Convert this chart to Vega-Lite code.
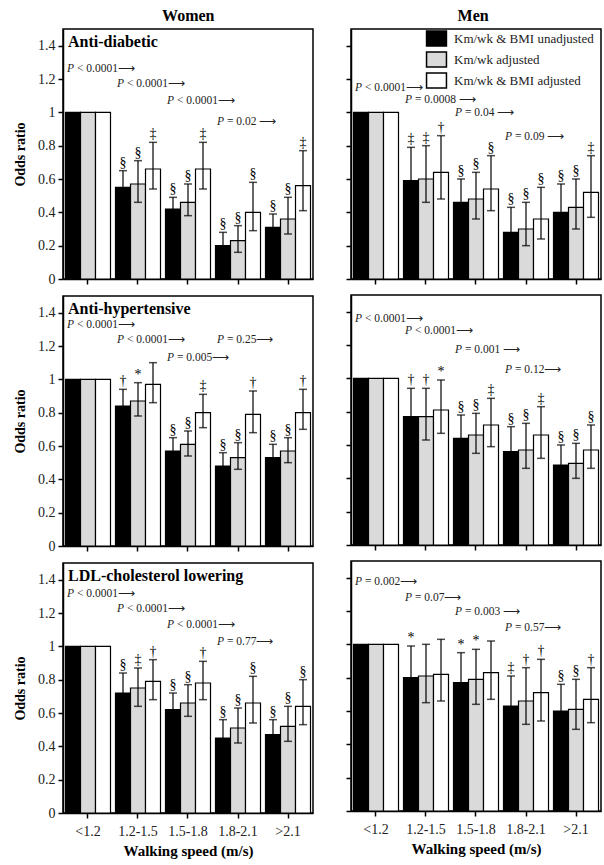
{
"$schema": "https://vega.github.io/schema/vega-lite/v6.json",
"padding": {"left": 12, "top": 8, "right": 2, "bottom": 0},
"config": {
 "font": "Liberation Serif",
 "view": {"stroke": "black", "strokeWidth": 1.5},
 "axis": {"grid": false, "domainColor": "black", "domainWidth": 1.5, "tickColor": "black", "tickWidth": 1.5, "tickSize": 5, "labelFont": "Liberation Serif", "labelFontSize": 14, "labelColor": "#222", "labelPadding": 3, "titleFont": "Liberation Serif", "titleFontSize": 14, "titleFontWeight": "bold", "titleColor": "black"},
 "axisX": {"labelAngle": 0},
 "text": {"font": "Liberation Serif", "color": "#222"},
 "title": {"font": "Liberation Serif", "fontWeight": "bold", "color": "black"}
},
"datasets": {"d": [
{"kind":"bar","sex":"Women","drug":"AD","speed":"<1.2","model":"Km/wk & BMI unadjusted","or":1,"lo":null,"hi":null,"sig":""},
{"kind":"bar","sex":"Women","drug":"AD","speed":"<1.2","model":"Km/wk adjusted","or":1,"lo":null,"hi":null,"sig":""},
{"kind":"bar","sex":"Women","drug":"AD","speed":"<1.2","model":"Km/wk & BMI adjusted","or":1,"lo":null,"hi":null,"sig":""},
{"kind":"bar","sex":"Women","drug":"AD","speed":"1.2-1.5","model":"Km/wk & BMI unadjusted","or":0.55,"lo":0.47,"hi":0.65,"sig":"§"},
{"kind":"bar","sex":"Women","drug":"AD","speed":"1.2-1.5","model":"Km/wk adjusted","or":0.57,"lo":0.46,"hi":0.71,"sig":"§"},
{"kind":"bar","sex":"Women","drug":"AD","speed":"1.2-1.5","model":"Km/wk & BMI adjusted","or":0.66,"lo":0.54,"hi":0.82,"sig":"‡"},
{"kind":"bar","sex":"Women","drug":"AD","speed":"1.5-1.8","model":"Km/wk & BMI unadjusted","or":0.42,"lo":0.35,"hi":0.49,"sig":"§"},
{"kind":"bar","sex":"Women","drug":"AD","speed":"1.5-1.8","model":"Km/wk adjusted","or":0.46,"lo":0.38,"hi":0.57,"sig":"§"},
{"kind":"bar","sex":"Women","drug":"AD","speed":"1.5-1.8","model":"Km/wk & BMI adjusted","or":0.66,"lo":0.54,"hi":0.82,"sig":"‡"},
{"kind":"bar","sex":"Women","drug":"AD","speed":"1.8-2.1","model":"Km/wk & BMI unadjusted","or":0.20,"lo":0.14,"hi":0.28,"sig":"§"},
{"kind":"bar","sex":"Women","drug":"AD","speed":"1.8-2.1","model":"Km/wk adjusted","or":0.23,"lo":0.16,"hi":0.32,"sig":"§"},
{"kind":"bar","sex":"Women","drug":"AD","speed":"1.8-2.1","model":"Km/wk & BMI adjusted","or":0.40,"lo":0.29,"hi":0.58,"sig":"§"},
{"kind":"bar","sex":"Women","drug":"AD","speed":">2.1","model":"Km/wk & BMI unadjusted","or":0.31,"lo":0.24,"hi":0.39,"sig":"§"},
{"kind":"bar","sex":"Women","drug":"AD","speed":">2.1","model":"Km/wk adjusted","or":0.36,"lo":0.27,"hi":0.49,"sig":"§"},
{"kind":"bar","sex":"Women","drug":"AD","speed":">2.1","model":"Km/wk & BMI adjusted","or":0.56,"lo":0.41,"hi":0.77,"sig":"‡"},
{"kind":"bar","sex":"Men","drug":"AD","speed":"<1.2","model":"Km/wk & BMI unadjusted","or":1,"lo":null,"hi":null,"sig":""},
{"kind":"bar","sex":"Men","drug":"AD","speed":"<1.2","model":"Km/wk adjusted","or":1,"lo":null,"hi":null,"sig":""},
{"kind":"bar","sex":"Men","drug":"AD","speed":"<1.2","model":"Km/wk & BMI adjusted","or":1,"lo":null,"hi":null,"sig":""},
{"kind":"bar","sex":"Men","drug":"AD","speed":"1.2-1.5","model":"Km/wk & BMI unadjusted","or":0.59,"lo":0.44,"hi":0.79,"sig":"‡"},
{"kind":"bar","sex":"Men","drug":"AD","speed":"1.2-1.5","model":"Km/wk adjusted","or":0.60,"lo":0.46,"hi":0.80,"sig":"‡"},
{"kind":"bar","sex":"Men","drug":"AD","speed":"1.2-1.5","model":"Km/wk & BMI adjusted","or":0.64,"lo":0.48,"hi":0.86,"sig":"†"},
{"kind":"bar","sex":"Men","drug":"AD","speed":"1.5-1.8","model":"Km/wk & BMI unadjusted","or":0.46,"lo":0.34,"hi":0.60,"sig":"§"},
{"kind":"bar","sex":"Men","drug":"AD","speed":"1.5-1.8","model":"Km/wk adjusted","or":0.48,"lo":0.36,"hi":0.64,"sig":"§"},
{"kind":"bar","sex":"Men","drug":"AD","speed":"1.5-1.8","model":"Km/wk & BMI adjusted","or":0.54,"lo":0.41,"hi":0.74,"sig":"§"},
{"kind":"bar","sex":"Men","drug":"AD","speed":"1.8-2.1","model":"Km/wk & BMI unadjusted","or":0.28,"lo":0.19,"hi":0.43,"sig":"§"},
{"kind":"bar","sex":"Men","drug":"AD","speed":"1.8-2.1","model":"Km/wk adjusted","or":0.30,"lo":0.20,"hi":0.46,"sig":"§"},
{"kind":"bar","sex":"Men","drug":"AD","speed":"1.8-2.1","model":"Km/wk & BMI adjusted","or":0.36,"lo":0.24,"hi":0.55,"sig":"§"},
{"kind":"bar","sex":"Men","drug":"AD","speed":">2.1","model":"Km/wk & BMI unadjusted","or":0.40,"lo":0.29,"hi":0.57,"sig":"§"},
{"kind":"bar","sex":"Men","drug":"AD","speed":">2.1","model":"Km/wk adjusted","or":0.43,"lo":0.30,"hi":0.60,"sig":"§"},
{"kind":"bar","sex":"Men","drug":"AD","speed":">2.1","model":"Km/wk & BMI adjusted","or":0.52,"lo":0.37,"hi":0.74,"sig":"‡"},
{"kind":"bar","sex":"Women","drug":"AH","speed":"<1.2","model":"Km/wk & BMI unadjusted","or":1,"lo":null,"hi":null,"sig":""},
{"kind":"bar","sex":"Women","drug":"AH","speed":"<1.2","model":"Km/wk adjusted","or":1,"lo":null,"hi":null,"sig":""},
{"kind":"bar","sex":"Women","drug":"AH","speed":"<1.2","model":"Km/wk & BMI adjusted","or":1,"lo":null,"hi":null,"sig":""},
{"kind":"bar","sex":"Women","drug":"AH","speed":"1.2-1.5","model":"Km/wk & BMI unadjusted","or":0.84,"lo":0.75,"hi":0.94,"sig":"†"},
{"kind":"bar","sex":"Women","drug":"AH","speed":"1.2-1.5","model":"Km/wk adjusted","or":0.87,"lo":0.78,"hi":0.98,"sig":"*"},
{"kind":"bar","sex":"Women","drug":"AH","speed":"1.2-1.5","model":"Km/wk & BMI adjusted","or":0.97,"lo":0.86,"hi":1.10,"sig":""},
{"kind":"bar","sex":"Women","drug":"AH","speed":"1.5-1.8","model":"Km/wk & BMI unadjusted","or":0.57,"lo":0.50,"hi":0.65,"sig":"§"},
{"kind":"bar","sex":"Women","drug":"AH","speed":"1.5-1.8","model":"Km/wk adjusted","or":0.61,"lo":0.54,"hi":0.69,"sig":"§"},
{"kind":"bar","sex":"Women","drug":"AH","speed":"1.5-1.8","model":"Km/wk & BMI adjusted","or":0.80,"lo":0.71,"hi":0.91,"sig":"‡"},
{"kind":"bar","sex":"Women","drug":"AH","speed":"1.8-2.1","model":"Km/wk & BMI unadjusted","or":0.48,"lo":0.42,"hi":0.56,"sig":"§"},
{"kind":"bar","sex":"Women","drug":"AH","speed":"1.8-2.1","model":"Km/wk adjusted","or":0.53,"lo":0.46,"hi":0.62,"sig":"§"},
{"kind":"bar","sex":"Women","drug":"AH","speed":"1.8-2.1","model":"Km/wk & BMI adjusted","or":0.79,"lo":0.68,"hi":0.93,"sig":"†"},
{"kind":"bar","sex":"Women","drug":"AH","speed":">2.1","model":"Km/wk & BMI unadjusted","or":0.53,"lo":0.46,"hi":0.61,"sig":"§"},
{"kind":"bar","sex":"Women","drug":"AH","speed":">2.1","model":"Km/wk adjusted","or":0.57,"lo":0.50,"hi":0.65,"sig":"§"},
{"kind":"bar","sex":"Women","drug":"AH","speed":">2.1","model":"Km/wk & BMI adjusted","or":0.80,"lo":0.70,"hi":0.94,"sig":"†"},
{"kind":"bar","sex":"Men","drug":"AH","speed":"<1.2","model":"Km/wk & BMI unadjusted","or":1,"lo":null,"hi":null,"sig":""},
{"kind":"bar","sex":"Men","drug":"AH","speed":"<1.2","model":"Km/wk adjusted","or":1,"lo":null,"hi":null,"sig":""},
{"kind":"bar","sex":"Men","drug":"AH","speed":"<1.2","model":"Km/wk & BMI adjusted","or":1,"lo":null,"hi":null,"sig":""},
{"kind":"bar","sex":"Men","drug":"AH","speed":"1.2-1.5","model":"Km/wk & BMI unadjusted","or":0.77,"lo":0.63,"hi":0.94,"sig":"†"},
{"kind":"bar","sex":"Men","drug":"AH","speed":"1.2-1.5","model":"Km/wk adjusted","or":0.77,"lo":0.63,"hi":0.94,"sig":"†"},
{"kind":"bar","sex":"Men","drug":"AH","speed":"1.2-1.5","model":"Km/wk & BMI adjusted","or":0.81,"lo":0.67,"hi":0.99,"sig":"*"},
{"kind":"bar","sex":"Men","drug":"AH","speed":"1.5-1.8","model":"Km/wk & BMI unadjusted","or":0.64,"lo":0.53,"hi":0.78,"sig":"§"},
{"kind":"bar","sex":"Men","drug":"AH","speed":"1.5-1.8","model":"Km/wk adjusted","or":0.66,"lo":0.55,"hi":0.79,"sig":"§"},
{"kind":"bar","sex":"Men","drug":"AH","speed":"1.5-1.8","model":"Km/wk & BMI adjusted","or":0.72,"lo":0.59,"hi":0.88,"sig":"‡"},
{"kind":"bar","sex":"Men","drug":"AH","speed":"1.8-2.1","model":"Km/wk & BMI unadjusted","or":0.56,"lo":0.45,"hi":0.71,"sig":"§"},
{"kind":"bar","sex":"Men","drug":"AH","speed":"1.8-2.1","model":"Km/wk adjusted","or":0.57,"lo":0.46,"hi":0.73,"sig":"§"},
{"kind":"bar","sex":"Men","drug":"AH","speed":"1.8-2.1","model":"Km/wk & BMI adjusted","or":0.66,"lo":0.52,"hi":0.83,"sig":"‡"},
{"kind":"bar","sex":"Men","drug":"AH","speed":">2.1","model":"Km/wk & BMI unadjusted","or":0.48,"lo":0.39,"hi":0.60,"sig":"§"},
{"kind":"bar","sex":"Men","drug":"AH","speed":">2.1","model":"Km/wk adjusted","or":0.49,"lo":0.40,"hi":0.61,"sig":"§"},
{"kind":"bar","sex":"Men","drug":"AH","speed":">2.1","model":"Km/wk & BMI adjusted","or":0.57,"lo":0.46,"hi":0.72,"sig":"§"},
{"kind":"bar","sex":"Women","drug":"LDL","speed":"<1.2","model":"Km/wk & BMI unadjusted","or":1,"lo":null,"hi":null,"sig":""},
{"kind":"bar","sex":"Women","drug":"LDL","speed":"<1.2","model":"Km/wk adjusted","or":1,"lo":null,"hi":null,"sig":""},
{"kind":"bar","sex":"Women","drug":"LDL","speed":"<1.2","model":"Km/wk & BMI adjusted","or":1,"lo":null,"hi":null,"sig":""},
{"kind":"bar","sex":"Women","drug":"LDL","speed":"1.2-1.5","model":"Km/wk & BMI unadjusted","or":0.72,"lo":0.63,"hi":0.84,"sig":"§"},
{"kind":"bar","sex":"Women","drug":"LDL","speed":"1.2-1.5","model":"Km/wk adjusted","or":0.75,"lo":0.64,"hi":0.87,"sig":"‡"},
{"kind":"bar","sex":"Women","drug":"LDL","speed":"1.2-1.5","model":"Km/wk & BMI adjusted","or":0.79,"lo":0.68,"hi":0.92,"sig":"†"},
{"kind":"bar","sex":"Women","drug":"LDL","speed":"1.5-1.8","model":"Km/wk & BMI unadjusted","or":0.62,"lo":0.53,"hi":0.72,"sig":"§"},
{"kind":"bar","sex":"Women","drug":"LDL","speed":"1.5-1.8","model":"Km/wk adjusted","or":0.66,"lo":0.58,"hi":0.77,"sig":"§"},
{"kind":"bar","sex":"Women","drug":"LDL","speed":"1.5-1.8","model":"Km/wk & BMI adjusted","or":0.78,"lo":0.68,"hi":0.91,"sig":"†"},
{"kind":"bar","sex":"Women","drug":"LDL","speed":"1.8-2.1","model":"Km/wk & BMI unadjusted","or":0.45,"lo":0.37,"hi":0.56,"sig":"§"},
{"kind":"bar","sex":"Women","drug":"LDL","speed":"1.8-2.1","model":"Km/wk adjusted","or":0.51,"lo":0.42,"hi":0.63,"sig":"§"},
{"kind":"bar","sex":"Women","drug":"LDL","speed":"1.8-2.1","model":"Km/wk & BMI adjusted","or":0.66,"lo":0.54,"hi":0.82,"sig":"§"},
{"kind":"bar","sex":"Women","drug":"LDL","speed":">2.1","model":"Km/wk & BMI unadjusted","or":0.47,"lo":0.39,"hi":0.56,"sig":"§"},
{"kind":"bar","sex":"Women","drug":"LDL","speed":">2.1","model":"Km/wk adjusted","or":0.52,"lo":0.43,"hi":0.64,"sig":"§"},
{"kind":"bar","sex":"Women","drug":"LDL","speed":">2.1","model":"Km/wk & BMI adjusted","or":0.64,"lo":0.53,"hi":0.80,"sig":"§"},
{"kind":"bar","sex":"Men","drug":"LDL","speed":"<1.2","model":"Km/wk & BMI unadjusted","or":1,"lo":null,"hi":null,"sig":""},
{"kind":"bar","sex":"Men","drug":"LDL","speed":"<1.2","model":"Km/wk adjusted","or":1,"lo":null,"hi":null,"sig":""},
{"kind":"bar","sex":"Men","drug":"LDL","speed":"<1.2","model":"Km/wk & BMI adjusted","or":1,"lo":null,"hi":null,"sig":""},
{"kind":"bar","sex":"Men","drug":"LDL","speed":"1.2-1.5","model":"Km/wk & BMI unadjusted","or":0.80,"lo":0.65,"hi":0.99,"sig":"*"},
{"kind":"bar","sex":"Men","drug":"LDL","speed":"1.2-1.5","model":"Km/wk adjusted","or":0.81,"lo":0.65,"hi":1.00,"sig":""},
{"kind":"bar","sex":"Men","drug":"LDL","speed":"1.2-1.5","model":"Km/wk & BMI adjusted","or":0.82,"lo":0.66,"hi":1.03,"sig":""},
{"kind":"bar","sex":"Men","drug":"LDL","speed":"1.5-1.8","model":"Km/wk & BMI unadjusted","or":0.77,"lo":0.62,"hi":0.95,"sig":"*"},
{"kind":"bar","sex":"Men","drug":"LDL","speed":"1.5-1.8","model":"Km/wk adjusted","or":0.79,"lo":0.64,"hi":0.97,"sig":"*"},
{"kind":"bar","sex":"Men","drug":"LDL","speed":"1.5-1.8","model":"Km/wk & BMI adjusted","or":0.83,"lo":0.67,"hi":1.02,"sig":""},
{"kind":"bar","sex":"Men","drug":"LDL","speed":"1.8-2.1","model":"Km/wk & BMI unadjusted","or":0.63,"lo":0.49,"hi":0.81,"sig":"‡"},
{"kind":"bar","sex":"Men","drug":"LDL","speed":"1.8-2.1","model":"Km/wk adjusted","or":0.66,"lo":0.52,"hi":0.86,"sig":"†"},
{"kind":"bar","sex":"Men","drug":"LDL","speed":"1.8-2.1","model":"Km/wk & BMI adjusted","or":0.71,"lo":0.54,"hi":0.91,"sig":"†"},
{"kind":"bar","sex":"Men","drug":"LDL","speed":">2.1","model":"Km/wk & BMI unadjusted","or":0.60,"lo":0.47,"hi":0.76,"sig":"§"},
{"kind":"bar","sex":"Men","drug":"LDL","speed":">2.1","model":"Km/wk adjusted","or":0.61,"lo":0.49,"hi":0.79,"sig":"§"},
{"kind":"bar","sex":"Men","drug":"LDL","speed":">2.1","model":"Km/wk & BMI adjusted","or":0.67,"lo":0.53,"hi":0.86,"sig":"†"},
{"kind":"p","sex":"Women","drug":"AD","speed":"<1.2","p":"< 0.0001⟶","py":1.26},
{"kind":"p","sex":"Women","drug":"AD","speed":"1.2-1.5","p":"< 0.0001⟶","py":1.17},
{"kind":"p","sex":"Women","drug":"AD","speed":"1.5-1.8","p":"< 0.0001⟶","py":1.07},
{"kind":"p","sex":"Women","drug":"AD","speed":"1.8-2.1","p":"= 0.02 ⟶","py":0.945},
{"kind":"p","sex":"Men","drug":"AD","speed":"<1.2","p":"< 0.0001⟶","py":1.145},
{"kind":"p","sex":"Men","drug":"AD","speed":"1.2-1.5","p":"= 0.0008 ⟶","py":1.075},
{"kind":"p","sex":"Men","drug":"AD","speed":"1.5-1.8","p":"= 0.04 ⟶","py":0.995},
{"kind":"p","sex":"Men","drug":"AD","speed":"1.8-2.1","p":"= 0.09 ⟶","py":0.85},
{"kind":"p","sex":"Women","drug":"AH","speed":"<1.2","p":"< 0.0001⟶","py":1.327},
{"kind":"p","sex":"Women","drug":"AH","speed":"1.2-1.5","p":"< 0.0001⟶","py":1.237},
{"kind":"p","sex":"Women","drug":"AH","speed":"1.5-1.8","p":"= 0.005⟶","py":1.13},
{"kind":"p","sex":"Women","drug":"AH","speed":"1.8-2.1","p":"= 0.25⟶","py":1.237},
{"kind":"p","sex":"Men","drug":"AH","speed":"<1.2","p":"< 0.0001⟶","py":1.357},
{"kind":"p","sex":"Men","drug":"AH","speed":"1.2-1.5","p":"< 0.0001⟶","py":1.284},
{"kind":"p","sex":"Men","drug":"AH","speed":"1.5-1.8","p":"= 0.001 ⟶","py":1.17},
{"kind":"p","sex":"Men","drug":"AH","speed":"1.8-2.1","p":"= 0.12⟶","py":1.05},
{"kind":"p","sex":"Women","drug":"LDL","speed":"<1.2","p":"< 0.0001⟶","py":1.315},
{"kind":"p","sex":"Women","drug":"LDL","speed":"1.2-1.5","p":"< 0.0001⟶","py":1.224},
{"kind":"p","sex":"Women","drug":"LDL","speed":"1.5-1.8","p":"< 0.0001⟶","py":1.128},
{"kind":"p","sex":"Women","drug":"LDL","speed":"1.8-2.1","p":"= 0.77⟶","py":1.026},
{"kind":"p","sex":"Men","drug":"LDL","speed":"<1.2","p":"= 0.002⟶","py":1.375},
{"kind":"p","sex":"Men","drug":"LDL","speed":"1.2-1.5","p":"= 0.07⟶","py":1.279},
{"kind":"p","sex":"Men","drug":"LDL","speed":"1.5-1.8","p":"= 0.003 ⟶","py":1.195},
{"kind":"p","sex":"Men","drug":"LDL","speed":"1.8-2.1","p":"= 0.57⟶","py":1.098},
{"kind":"t","sex":"Women","drug":"AD","speed":"<1.2","label":"Anti-diabetic"},
{"kind":"t","sex":"Women","drug":"AH","speed":"<1.2","label":"Anti-hypertensive"},
{"kind":"t","sex":"Women","drug":"LDL","speed":"<1.2","label":"LDL-cholesterol lowering"}
]},
"spacing": 30,
"resolve": {"scale": {"fill": "independent"}, "legend": {"fill": "independent"}},
"hconcat": [
{
 "title": {"text": "Women", "anchor": "middle", "fontSize": 16, "dx": 25},
 "spacing": 8,
 "resolve": {"scale": {"fill": "independent"}, "legend": {"fill": "independent"}},
 "vconcat": [
 {
  "width": 250, "height": 250,
  "data": {"name": "d"},
  "transform": [{"filter": "datum.sex=='Women' && datum.drug=='AD'"}],
  "encoding": {"x": {"field": "speed", "type": "nominal", "sort": ["<1.2","1.2-1.5","1.5-1.8","1.8-2.1",">2.1"], "scale": {"paddingInner": 0.1, "paddingOuter": 0.05}, "axis": {"labels": false, "title": null}}},
  "layer": [
   {"transform": [{"filter": "datum.kind=='bar'"}], "mark": {"type": "bar", "stroke": "black", "strokeWidth": 1.2},
    "encoding": {"xOffset": {"field": "model", "sort": ["Km/wk & BMI unadjusted","Km/wk adjusted","Km/wk & BMI adjusted"]},
     "y": {"field": "or", "type": "quantitative", "scale": {"domain": [0, 1.5]}, "axis": {"values": [0,0.2,0.4,0.6,0.8,1,1.2,1.4], "format": "~g", "title": "Odds ratio", "titlePadding": 10}},
     "fill": {"field": "model", "scale": {"domain": ["Km/wk & BMI unadjusted","Km/wk adjusted","Km/wk & BMI adjusted"], "range": ["black","#dadada","white"]}, "legend": null}}},
   {"transform": [{"filter": "datum.kind=='bar' && datum.hi != null"}], "mark": {"type": "rule", "color": "black", "strokeWidth": 1.2},
    "encoding": {"xOffset": {"field": "model", "sort": ["Km/wk & BMI unadjusted","Km/wk adjusted","Km/wk & BMI adjusted"]}, "y": {"field": "lo", "type": "quantitative", "scale": {"domain": [0, 1.5]}, "axis": {"values": [0,0.2,0.4,0.6,0.8,1,1.2,1.4], "format": "~g", "title": "Odds ratio", "titlePadding": 10}}, "y2": {"field": "hi"}}},
   {"transform": [{"filter": "datum.kind=='bar' && datum.hi != null"}], "mark": {"type": "tick", "color": "black", "size": 8, "thickness": 1.5},
    "encoding": {"xOffset": {"field": "model", "sort": ["Km/wk & BMI unadjusted","Km/wk adjusted","Km/wk & BMI adjusted"]}, "y": {"field": "hi", "type": "quantitative", "scale": {"domain": [0, 1.5]}, "axis": {"values": [0,0.2,0.4,0.6,0.8,1,1.2,1.4], "format": "~g", "title": "Odds ratio", "titlePadding": 10}}}},
   {"transform": [{"filter": "datum.kind=='bar' && datum.hi != null"}], "mark": {"type": "tick", "color": "black", "size": 8, "thickness": 1.5},
    "encoding": {"xOffset": {"field": "model", "sort": ["Km/wk & BMI unadjusted","Km/wk adjusted","Km/wk & BMI adjusted"]}, "y": {"field": "lo", "type": "quantitative", "scale": {"domain": [0, 1.5]}, "axis": {"values": [0,0.2,0.4,0.6,0.8,1,1.2,1.4], "format": "~g", "title": "Odds ratio", "titlePadding": 10}}}},
   {"transform": [{"filter": "datum.kind=='bar' && datum.hi != null"}], "mark": {"type": "text", "baseline": "bottom", "dy": -1, "fontSize": 14, "color": "black"},
    "encoding": {"xOffset": {"field": "model", "sort": ["Km/wk & BMI unadjusted","Km/wk adjusted","Km/wk & BMI adjusted"]}, "y": {"field": "hi", "type": "quantitative", "scale": {"domain": [0, 1.5]}, "axis": {"values": [0,0.2,0.4,0.6,0.8,1,1.2,1.4], "format": "~g", "title": "Odds ratio", "titlePadding": 10}}, "text": {"field": "sig"}}},
   {"transform": [{"filter": "datum.kind=='p'"}], "mark": {"type": "text", "align": "left", "baseline": "middle", "fontStyle": "italic", "fontSize": 11.5, "dx": -21},
    "encoding": {"y": {"field": "py", "type": "quantitative", "scale": {"domain": [0, 1.5]}, "axis": {"values": [0,0.2,0.4,0.6,0.8,1,1.2,1.4], "format": "~g", "title": "Odds ratio", "titlePadding": 10}}, "text": {"value": "P"}}},
   {"transform": [{"filter": "datum.kind=='p'"}], "mark": {"type": "text", "align": "left", "baseline": "middle", "fontSize": 11.5, "dx": -11},
    "encoding": {"y": {"field": "py", "type": "quantitative", "scale": {"domain": [0, 1.5]}, "axis": {"values": [0,0.2,0.4,0.6,0.8,1,1.2,1.4], "format": "~g", "title": "Odds ratio", "titlePadding": 10}}, "text": {"field": "p"}}},
   {"transform": [{"filter": "datum.kind=='t'"}], "mark": {"type": "text", "align": "left", "baseline": "middle", "fontSize": 16, "fontWeight": "bold", "color": "black", "dx": -20},
    "encoding": {"y": {"datum": 1.42, "type": "quantitative", "scale": {"domain": [0, 1.5]}, "axis": {"values": [0,0.2,0.4,0.6,0.8,1,1.2,1.4], "format": "~g", "title": "Odds ratio", "titlePadding": 10}}, "text": {"field": "label"}}}
  ]
 },
 {
  "width": 250, "height": 250,
  "data": {"name": "d"},
  "transform": [{"filter": "datum.sex=='Women' && datum.drug=='AH'"}],
  "encoding": {"x": {"field": "speed", "type": "nominal", "sort": ["<1.2","1.2-1.5","1.5-1.8","1.8-2.1",">2.1"], "scale": {"paddingInner": 0.1, "paddingOuter": 0.05}, "axis": {"labels": false, "title": null}}},
  "layer": [
   {"transform": [{"filter": "datum.kind=='bar'"}], "mark": {"type": "bar", "stroke": "black", "strokeWidth": 1.2},
    "encoding": {"xOffset": {"field": "model", "sort": ["Km/wk & BMI unadjusted","Km/wk adjusted","Km/wk & BMI adjusted"]},
     "y": {"field": "or", "type": "quantitative", "scale": {"domain": [0, 1.5]}, "axis": {"values": [0,0.2,0.4,0.6,0.8,1,1.2,1.4], "format": "~g", "title": "Odds ratio", "titlePadding": 10}},
     "fill": {"field": "model", "scale": {"domain": ["Km/wk & BMI unadjusted","Km/wk adjusted","Km/wk & BMI adjusted"], "range": ["black","#dadada","white"]}, "legend": null}}},
   {"transform": [{"filter": "datum.kind=='bar' && datum.hi != null"}], "mark": {"type": "rule", "color": "black", "strokeWidth": 1.2},
    "encoding": {"xOffset": {"field": "model", "sort": ["Km/wk & BMI unadjusted","Km/wk adjusted","Km/wk & BMI adjusted"]}, "y": {"field": "lo", "type": "quantitative", "scale": {"domain": [0, 1.5]}, "axis": {"values": [0,0.2,0.4,0.6,0.8,1,1.2,1.4], "format": "~g", "title": "Odds ratio", "titlePadding": 10}}, "y2": {"field": "hi"}}},
   {"transform": [{"filter": "datum.kind=='bar' && datum.hi != null"}], "mark": {"type": "tick", "color": "black", "size": 8, "thickness": 1.5},
    "encoding": {"xOffset": {"field": "model", "sort": ["Km/wk & BMI unadjusted","Km/wk adjusted","Km/wk & BMI adjusted"]}, "y": {"field": "hi", "type": "quantitative", "scale": {"domain": [0, 1.5]}, "axis": {"values": [0,0.2,0.4,0.6,0.8,1,1.2,1.4], "format": "~g", "title": "Odds ratio", "titlePadding": 10}}}},
   {"transform": [{"filter": "datum.kind=='bar' && datum.hi != null"}], "mark": {"type": "tick", "color": "black", "size": 8, "thickness": 1.5},
    "encoding": {"xOffset": {"field": "model", "sort": ["Km/wk & BMI unadjusted","Km/wk adjusted","Km/wk & BMI adjusted"]}, "y": {"field": "lo", "type": "quantitative", "scale": {"domain": [0, 1.5]}, "axis": {"values": [0,0.2,0.4,0.6,0.8,1,1.2,1.4], "format": "~g", "title": "Odds ratio", "titlePadding": 10}}}},
   {"transform": [{"filter": "datum.kind=='bar' && datum.hi != null"}], "mark": {"type": "text", "baseline": "bottom", "dy": -1, "fontSize": 14, "color": "black"},
    "encoding": {"xOffset": {"field": "model", "sort": ["Km/wk & BMI unadjusted","Km/wk adjusted","Km/wk & BMI adjusted"]}, "y": {"field": "hi", "type": "quantitative", "scale": {"domain": [0, 1.5]}, "axis": {"values": [0,0.2,0.4,0.6,0.8,1,1.2,1.4], "format": "~g", "title": "Odds ratio", "titlePadding": 10}}, "text": {"field": "sig"}}},
   {"transform": [{"filter": "datum.kind=='p'"}], "mark": {"type": "text", "align": "left", "baseline": "middle", "fontStyle": "italic", "fontSize": 11.5, "dx": -21},
    "encoding": {"y": {"field": "py", "type": "quantitative", "scale": {"domain": [0, 1.5]}, "axis": {"values": [0,0.2,0.4,0.6,0.8,1,1.2,1.4], "format": "~g", "title": "Odds ratio", "titlePadding": 10}}, "text": {"value": "P"}}},
   {"transform": [{"filter": "datum.kind=='p'"}], "mark": {"type": "text", "align": "left", "baseline": "middle", "fontSize": 11.5, "dx": -11},
    "encoding": {"y": {"field": "py", "type": "quantitative", "scale": {"domain": [0, 1.5]}, "axis": {"values": [0,0.2,0.4,0.6,0.8,1,1.2,1.4], "format": "~g", "title": "Odds ratio", "titlePadding": 10}}, "text": {"field": "p"}}},
   {"transform": [{"filter": "datum.kind=='t'"}], "mark": {"type": "text", "align": "left", "baseline": "middle", "fontSize": 16, "fontWeight": "bold", "color": "black", "dx": -20},
    "encoding": {"y": {"datum": 1.42, "type": "quantitative", "scale": {"domain": [0, 1.5]}, "axis": {"values": [0,0.2,0.4,0.6,0.8,1,1.2,1.4], "format": "~g", "title": "Odds ratio", "titlePadding": 10}}, "text": {"field": "label"}}}
  ]
 },
 {
  "width": 250, "height": 250,
  "data": {"name": "d"},
  "transform": [{"filter": "datum.sex=='Women' && datum.drug=='LDL'"}],
  "encoding": {"x": {"field": "speed", "type": "nominal", "sort": ["<1.2","1.2-1.5","1.5-1.8","1.8-2.1",">2.1"], "scale": {"paddingInner": 0.1, "paddingOuter": 0.05}, "axis": {"title": "Walking speed (m/s)", "labelPadding": 6, "titlePadding": 5, "titleFontSize": 15}}},
  "layer": [
   {"transform": [{"filter": "datum.kind=='bar'"}], "mark": {"type": "bar", "stroke": "black", "strokeWidth": 1.2},
    "encoding": {"xOffset": {"field": "model", "sort": ["Km/wk & BMI unadjusted","Km/wk adjusted","Km/wk & BMI adjusted"]},
     "y": {"field": "or", "type": "quantitative", "scale": {"domain": [0, 1.5]}, "axis": {"values": [0,0.2,0.4,0.6,0.8,1,1.2,1.4], "format": "~g", "title": "Odds ratio", "titlePadding": 10}},
     "fill": {"field": "model", "scale": {"domain": ["Km/wk & BMI unadjusted","Km/wk adjusted","Km/wk & BMI adjusted"], "range": ["black","#dadada","white"]}, "legend": null}}},
   {"transform": [{"filter": "datum.kind=='bar' && datum.hi != null"}], "mark": {"type": "rule", "color": "black", "strokeWidth": 1.2},
    "encoding": {"xOffset": {"field": "model", "sort": ["Km/wk & BMI unadjusted","Km/wk adjusted","Km/wk & BMI adjusted"]}, "y": {"field": "lo", "type": "quantitative", "scale": {"domain": [0, 1.5]}, "axis": {"values": [0,0.2,0.4,0.6,0.8,1,1.2,1.4], "format": "~g", "title": "Odds ratio", "titlePadding": 10}}, "y2": {"field": "hi"}}},
   {"transform": [{"filter": "datum.kind=='bar' && datum.hi != null"}], "mark": {"type": "tick", "color": "black", "size": 8, "thickness": 1.5},
    "encoding": {"xOffset": {"field": "model", "sort": ["Km/wk & BMI unadjusted","Km/wk adjusted","Km/wk & BMI adjusted"]}, "y": {"field": "hi", "type": "quantitative", "scale": {"domain": [0, 1.5]}, "axis": {"values": [0,0.2,0.4,0.6,0.8,1,1.2,1.4], "format": "~g", "title": "Odds ratio", "titlePadding": 10}}}},
   {"transform": [{"filter": "datum.kind=='bar' && datum.hi != null"}], "mark": {"type": "tick", "color": "black", "size": 8, "thickness": 1.5},
    "encoding": {"xOffset": {"field": "model", "sort": ["Km/wk & BMI unadjusted","Km/wk adjusted","Km/wk & BMI adjusted"]}, "y": {"field": "lo", "type": "quantitative", "scale": {"domain": [0, 1.5]}, "axis": {"values": [0,0.2,0.4,0.6,0.8,1,1.2,1.4], "format": "~g", "title": "Odds ratio", "titlePadding": 10}}}},
   {"transform": [{"filter": "datum.kind=='bar' && datum.hi != null"}], "mark": {"type": "text", "baseline": "bottom", "dy": -1, "fontSize": 14, "color": "black"},
    "encoding": {"xOffset": {"field": "model", "sort": ["Km/wk & BMI unadjusted","Km/wk adjusted","Km/wk & BMI adjusted"]}, "y": {"field": "hi", "type": "quantitative", "scale": {"domain": [0, 1.5]}, "axis": {"values": [0,0.2,0.4,0.6,0.8,1,1.2,1.4], "format": "~g", "title": "Odds ratio", "titlePadding": 10}}, "text": {"field": "sig"}}},
   {"transform": [{"filter": "datum.kind=='p'"}], "mark": {"type": "text", "align": "left", "baseline": "middle", "fontStyle": "italic", "fontSize": 11.5, "dx": -21},
    "encoding": {"y": {"field": "py", "type": "quantitative", "scale": {"domain": [0, 1.5]}, "axis": {"values": [0,0.2,0.4,0.6,0.8,1,1.2,1.4], "format": "~g", "title": "Odds ratio", "titlePadding": 10}}, "text": {"value": "P"}}},
   {"transform": [{"filter": "datum.kind=='p'"}], "mark": {"type": "text", "align": "left", "baseline": "middle", "fontSize": 11.5, "dx": -11},
    "encoding": {"y": {"field": "py", "type": "quantitative", "scale": {"domain": [0, 1.5]}, "axis": {"values": [0,0.2,0.4,0.6,0.8,1,1.2,1.4], "format": "~g", "title": "Odds ratio", "titlePadding": 10}}, "text": {"field": "p"}}},
   {"transform": [{"filter": "datum.kind=='t'"}], "mark": {"type": "text", "align": "left", "baseline": "middle", "fontSize": 16, "fontWeight": "bold", "color": "black", "dx": -20},
    "encoding": {"y": {"datum": 1.42, "type": "quantitative", "scale": {"domain": [0, 1.5]}, "axis": {"values": [0,0.2,0.4,0.6,0.8,1,1.2,1.4], "format": "~g", "title": "Odds ratio", "titlePadding": 10}}, "text": {"field": "label"}}}
  ]
 }
 ]
},
{
 "title": {"text": "Men", "anchor": "middle", "fontSize": 16},
 "spacing": 8,
 "resolve": {"scale": {"fill": "independent"}, "legend": {"fill": "independent"}},
 "vconcat": [
 {
  "width": 250, "height": 250,
  "data": {"name": "d"},
  "transform": [{"filter": "datum.sex=='Men' && datum.drug=='AD'"}],
  "encoding": {"x": {"field": "speed", "type": "nominal", "sort": ["<1.2","1.2-1.5","1.5-1.8","1.8-2.1",">2.1"], "scale": {"paddingInner": 0.1, "paddingOuter": 0.05}, "axis": {"labels": false, "title": null}}},
  "layer": [
   {"transform": [{"filter": "datum.kind=='bar'"}], "mark": {"type": "bar", "stroke": "black", "strokeWidth": 1.2},
    "encoding": {"xOffset": {"field": "model", "sort": ["Km/wk & BMI unadjusted","Km/wk adjusted","Km/wk & BMI adjusted"]},
     "y": {"field": "or", "type": "quantitative", "scale": {"domain": [0, 1.5]}, "axis": {"values": [0,0.2,0.4,0.6,0.8,1,1.2,1.4], "labels": false, "title": null}},
     "fill": {"field": "model", "scale": {"domain": ["Km/wk & BMI unadjusted","Km/wk adjusted","Km/wk & BMI adjusted"], "range": ["black","#dadada","white"]},
      "legend": {"orient": "none", "legendX": 76, "legendY": 0, "title": null, "padding": 0, "symbolType": "M-1.15,-0.87H1.15V0.87H-1.15Z", "symbolSize": 300, "symbolStrokeColor": "black", "symbolStrokeWidth": 1.5, "labelFont": "Liberation Serif", "labelFontSize": 13, "labelColor": "#222", "labelOffset": 8, "rowPadding": -5.3}}}},
   {"transform": [{"filter": "datum.kind=='bar' && datum.hi != null"}], "mark": {"type": "rule", "color": "black", "strokeWidth": 1.2},
    "encoding": {"xOffset": {"field": "model", "sort": ["Km/wk & BMI unadjusted","Km/wk adjusted","Km/wk & BMI adjusted"]}, "y": {"field": "lo", "type": "quantitative", "scale": {"domain": [0, 1.5]}, "axis": {"values": [0,0.2,0.4,0.6,0.8,1,1.2,1.4], "labels": false, "title": null}}, "y2": {"field": "hi"}}},
   {"transform": [{"filter": "datum.kind=='bar' && datum.hi != null"}], "mark": {"type": "tick", "color": "black", "size": 8, "thickness": 1.5},
    "encoding": {"xOffset": {"field": "model", "sort": ["Km/wk & BMI unadjusted","Km/wk adjusted","Km/wk & BMI adjusted"]}, "y": {"field": "hi", "type": "quantitative", "scale": {"domain": [0, 1.5]}, "axis": {"values": [0,0.2,0.4,0.6,0.8,1,1.2,1.4], "labels": false, "title": null}}}},
   {"transform": [{"filter": "datum.kind=='bar' && datum.hi != null"}], "mark": {"type": "tick", "color": "black", "size": 8, "thickness": 1.5},
    "encoding": {"xOffset": {"field": "model", "sort": ["Km/wk & BMI unadjusted","Km/wk adjusted","Km/wk & BMI adjusted"]}, "y": {"field": "lo", "type": "quantitative", "scale": {"domain": [0, 1.5]}, "axis": {"values": [0,0.2,0.4,0.6,0.8,1,1.2,1.4], "labels": false, "title": null}}}},
   {"transform": [{"filter": "datum.kind=='bar' && datum.hi != null"}], "mark": {"type": "text", "baseline": "bottom", "dy": -1, "fontSize": 14, "color": "black"},
    "encoding": {"xOffset": {"field": "model", "sort": ["Km/wk & BMI unadjusted","Km/wk adjusted","Km/wk & BMI adjusted"]}, "y": {"field": "hi", "type": "quantitative", "scale": {"domain": [0, 1.5]}, "axis": {"values": [0,0.2,0.4,0.6,0.8,1,1.2,1.4], "labels": false, "title": null}}, "text": {"field": "sig"}}},
   {"transform": [{"filter": "datum.kind=='p'"}], "mark": {"type": "text", "align": "left", "baseline": "middle", "fontStyle": "italic", "fontSize": 11.5, "dx": -21},
    "encoding": {"y": {"field": "py", "type": "quantitative", "scale": {"domain": [0, 1.5]}, "axis": {"values": [0,0.2,0.4,0.6,0.8,1,1.2,1.4], "labels": false, "title": null}}, "text": {"value": "P"}}},
   {"transform": [{"filter": "datum.kind=='p'"}], "mark": {"type": "text", "align": "left", "baseline": "middle", "fontSize": 11.5, "dx": -11},
    "encoding": {"y": {"field": "py", "type": "quantitative", "scale": {"domain": [0, 1.5]}, "axis": {"values": [0,0.2,0.4,0.6,0.8,1,1.2,1.4], "labels": false, "title": null}}, "text": {"field": "p"}}}
  ]
 },
 {
  "width": 250, "height": 250,
  "data": {"name": "d"},
  "transform": [{"filter": "datum.sex=='Men' && datum.drug=='AH'"}],
  "encoding": {"x": {"field": "speed", "type": "nominal", "sort": ["<1.2","1.2-1.5","1.5-1.8","1.8-2.1",">2.1"], "scale": {"paddingInner": 0.1, "paddingOuter": 0.05}, "axis": {"labels": false, "title": null}}},
  "layer": [
   {"transform": [{"filter": "datum.kind=='bar'"}], "mark": {"type": "bar", "stroke": "black", "strokeWidth": 1.2},
    "encoding": {"xOffset": {"field": "model", "sort": ["Km/wk & BMI unadjusted","Km/wk adjusted","Km/wk & BMI adjusted"]},
     "y": {"field": "or", "type": "quantitative", "scale": {"domain": [0, 1.5]}, "axis": {"values": [0,0.2,0.4,0.6,0.8,1,1.2,1.4], "labels": false, "title": null}},
     "fill": {"field": "model", "scale": {"domain": ["Km/wk & BMI unadjusted","Km/wk adjusted","Km/wk & BMI adjusted"], "range": ["black","#dadada","white"]}, "legend": null}}},
   {"transform": [{"filter": "datum.kind=='bar' && datum.hi != null"}], "mark": {"type": "rule", "color": "black", "strokeWidth": 1.2},
    "encoding": {"xOffset": {"field": "model", "sort": ["Km/wk & BMI unadjusted","Km/wk adjusted","Km/wk & BMI adjusted"]}, "y": {"field": "lo", "type": "quantitative", "scale": {"domain": [0, 1.5]}, "axis": {"values": [0,0.2,0.4,0.6,0.8,1,1.2,1.4], "labels": false, "title": null}}, "y2": {"field": "hi"}}},
   {"transform": [{"filter": "datum.kind=='bar' && datum.hi != null"}], "mark": {"type": "tick", "color": "black", "size": 8, "thickness": 1.5},
    "encoding": {"xOffset": {"field": "model", "sort": ["Km/wk & BMI unadjusted","Km/wk adjusted","Km/wk & BMI adjusted"]}, "y": {"field": "hi", "type": "quantitative", "scale": {"domain": [0, 1.5]}, "axis": {"values": [0,0.2,0.4,0.6,0.8,1,1.2,1.4], "labels": false, "title": null}}}},
   {"transform": [{"filter": "datum.kind=='bar' && datum.hi != null"}], "mark": {"type": "tick", "color": "black", "size": 8, "thickness": 1.5},
    "encoding": {"xOffset": {"field": "model", "sort": ["Km/wk & BMI unadjusted","Km/wk adjusted","Km/wk & BMI adjusted"]}, "y": {"field": "lo", "type": "quantitative", "scale": {"domain": [0, 1.5]}, "axis": {"values": [0,0.2,0.4,0.6,0.8,1,1.2,1.4], "labels": false, "title": null}}}},
   {"transform": [{"filter": "datum.kind=='bar' && datum.hi != null"}], "mark": {"type": "text", "baseline": "bottom", "dy": -1, "fontSize": 14, "color": "black"},
    "encoding": {"xOffset": {"field": "model", "sort": ["Km/wk & BMI unadjusted","Km/wk adjusted","Km/wk & BMI adjusted"]}, "y": {"field": "hi", "type": "quantitative", "scale": {"domain": [0, 1.5]}, "axis": {"values": [0,0.2,0.4,0.6,0.8,1,1.2,1.4], "labels": false, "title": null}}, "text": {"field": "sig"}}},
   {"transform": [{"filter": "datum.kind=='p'"}], "mark": {"type": "text", "align": "left", "baseline": "middle", "fontStyle": "italic", "fontSize": 11.5, "dx": -21},
    "encoding": {"y": {"field": "py", "type": "quantitative", "scale": {"domain": [0, 1.5]}, "axis": {"values": [0,0.2,0.4,0.6,0.8,1,1.2,1.4], "labels": false, "title": null}}, "text": {"value": "P"}}},
   {"transform": [{"filter": "datum.kind=='p'"}], "mark": {"type": "text", "align": "left", "baseline": "middle", "fontSize": 11.5, "dx": -11},
    "encoding": {"y": {"field": "py", "type": "quantitative", "scale": {"domain": [0, 1.5]}, "axis": {"values": [0,0.2,0.4,0.6,0.8,1,1.2,1.4], "labels": false, "title": null}}, "text": {"field": "p"}}}
  ]
 },
 {
  "width": 250, "height": 250,
  "data": {"name": "d"},
  "transform": [{"filter": "datum.sex=='Men' && datum.drug=='LDL'"}],
  "encoding": {"x": {"field": "speed", "type": "nominal", "sort": ["<1.2","1.2-1.5","1.5-1.8","1.8-2.1",">2.1"], "scale": {"paddingInner": 0.1, "paddingOuter": 0.05}, "axis": {"title": "Walking speed (m/s)", "labelPadding": 6, "titlePadding": 5, "titleFontSize": 15}}},
  "layer": [
   {"transform": [{"filter": "datum.kind=='bar'"}], "mark": {"type": "bar", "stroke": "black", "strokeWidth": 1.2},
    "encoding": {"xOffset": {"field": "model", "sort": ["Km/wk & BMI unadjusted","Km/wk adjusted","Km/wk & BMI adjusted"]},
     "y": {"field": "or", "type": "quantitative", "scale": {"domain": [0, 1.5]}, "axis": {"values": [0,0.2,0.4,0.6,0.8,1,1.2,1.4], "labels": false, "title": null}},
     "fill": {"field": "model", "scale": {"domain": ["Km/wk & BMI unadjusted","Km/wk adjusted","Km/wk & BMI adjusted"], "range": ["black","#dadada","white"]}, "legend": null}}},
   {"transform": [{"filter": "datum.kind=='bar' && datum.hi != null"}], "mark": {"type": "rule", "color": "black", "strokeWidth": 1.2},
    "encoding": {"xOffset": {"field": "model", "sort": ["Km/wk & BMI unadjusted","Km/wk adjusted","Km/wk & BMI adjusted"]}, "y": {"field": "lo", "type": "quantitative", "scale": {"domain": [0, 1.5]}, "axis": {"values": [0,0.2,0.4,0.6,0.8,1,1.2,1.4], "labels": false, "title": null}}, "y2": {"field": "hi"}}},
   {"transform": [{"filter": "datum.kind=='bar' && datum.hi != null"}], "mark": {"type": "tick", "color": "black", "size": 8, "thickness": 1.5},
    "encoding": {"xOffset": {"field": "model", "sort": ["Km/wk & BMI unadjusted","Km/wk adjusted","Km/wk & BMI adjusted"]}, "y": {"field": "hi", "type": "quantitative", "scale": {"domain": [0, 1.5]}, "axis": {"values": [0,0.2,0.4,0.6,0.8,1,1.2,1.4], "labels": false, "title": null}}}},
   {"transform": [{"filter": "datum.kind=='bar' && datum.hi != null"}], "mark": {"type": "tick", "color": "black", "size": 8, "thickness": 1.5},
    "encoding": {"xOffset": {"field": "model", "sort": ["Km/wk & BMI unadjusted","Km/wk adjusted","Km/wk & BMI adjusted"]}, "y": {"field": "lo", "type": "quantitative", "scale": {"domain": [0, 1.5]}, "axis": {"values": [0,0.2,0.4,0.6,0.8,1,1.2,1.4], "labels": false, "title": null}}}},
   {"transform": [{"filter": "datum.kind=='bar' && datum.hi != null"}], "mark": {"type": "text", "baseline": "bottom", "dy": -1, "fontSize": 14, "color": "black"},
    "encoding": {"xOffset": {"field": "model", "sort": ["Km/wk & BMI unadjusted","Km/wk adjusted","Km/wk & BMI adjusted"]}, "y": {"field": "hi", "type": "quantitative", "scale": {"domain": [0, 1.5]}, "axis": {"values": [0,0.2,0.4,0.6,0.8,1,1.2,1.4], "labels": false, "title": null}}, "text": {"field": "sig"}}},
   {"transform": [{"filter": "datum.kind=='p'"}], "mark": {"type": "text", "align": "left", "baseline": "middle", "fontStyle": "italic", "fontSize": 11.5, "dx": -21},
    "encoding": {"y": {"field": "py", "type": "quantitative", "scale": {"domain": [0, 1.5]}, "axis": {"values": [0,0.2,0.4,0.6,0.8,1,1.2,1.4], "labels": false, "title": null}}, "text": {"value": "P"}}},
   {"transform": [{"filter": "datum.kind=='p'"}], "mark": {"type": "text", "align": "left", "baseline": "middle", "fontSize": 11.5, "dx": -11},
    "encoding": {"y": {"field": "py", "type": "quantitative", "scale": {"domain": [0, 1.5]}, "axis": {"values": [0,0.2,0.4,0.6,0.8,1,1.2,1.4], "labels": false, "title": null}}, "text": {"field": "p"}}}
  ]
 }
 ]
}
]
}
